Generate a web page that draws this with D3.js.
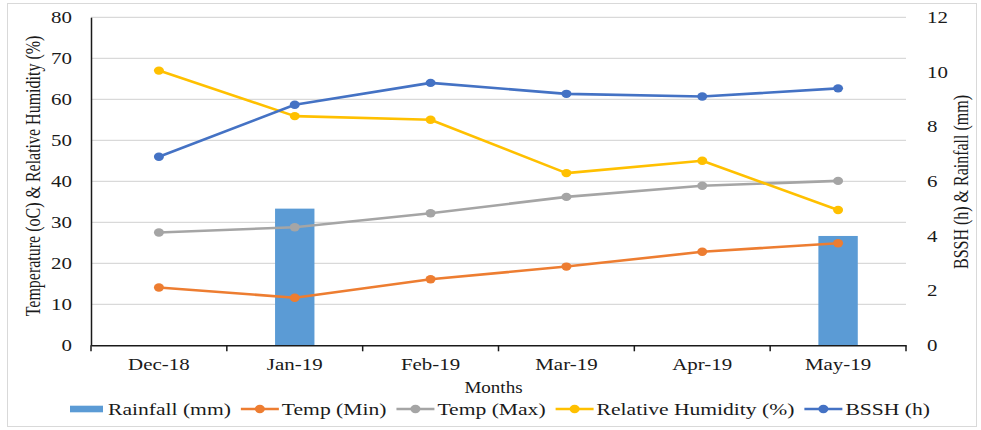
<!DOCTYPE html>
<html>
<head>
<meta charset="utf-8">
<script src="https://cdn.jsdelivr.net/npm/d3@7/dist/d3.min.js"></script>
<style>
  html, body { margin: 0; padding: 0; background: #fff; }
  svg { display: block; font-family: "Liberation Serif", "Times New Roman", serif; }
</style>
</head>
<body>
<svg id="chart" width="981" height="430"></svg>
<script>
// Monthly weather record, Dec 2018 – May 2019
const months = ["Dec-18", "Jan-19", "Feb-19", "Mar-19", "Apr-19", "May-19"];
const rainfall = [0, 5, 0, 0, 0, 4];                     // mm (right axis)
const tempMin = [14.1, 11.6, 16.1, 19.2, 22.8, 24.9];    // °C (left axis)
const tempMax = [27.5, 28.8, 32.2, 36.2, 38.9, 40.1];    // °C (left axis)
const humidity = [67, 55.9, 55, 42, 45, 33];             // % (left axis)
const bssh = [6.9, 8.8, 9.6, 9.2, 9.1, 9.4];             // h (right axis)
const leftTicks = [0, 10, 20, 30, 40, 50, 60, 70, 80];
const rightTicks = [0, 2, 4, 6, 8, 10, 12];

const svg = d3.select("#chart");
const W = 981, H = 430;
const m = { left: 91, right: 906, top: 17.3, bottom: 345.3 };
const INK = "#1a1a1a";
const SX = 1.27;   // horizontal widening of the serif type

// outer chart frame
svg.append("rect")
  .attr("x", 7.5).attr("y", 3.5).attr("width", W - 12).attr("height", H - 7)
  .attr("fill", "#fff").attr("stroke", "#d9d9d9").attr("stroke-width", 1);

const x = d3.scaleBand().domain(months).range([m.left, m.right]).padding(0);
const yL = d3.scaleLinear().domain([0, 80]).range([m.bottom, m.top]);
const yR = d3.scaleLinear().domain([0, 12]).range([m.bottom, m.top]);

// restyle axis labels: widened type, offset applied outside the scale
function styleTicks(sel, dx, dy, size) {
  sel.selectAll(".tick text")
    .attr("x", 0).attr("y", 0)
    .attr("transform", `translate(${dx},${dy}) scale(${SX},1)`)
    .attr("font-size", size).attr("fill", INK)
    .attr("font-family", "Liberation Serif");
}

// horizontal gridlines
svg.append("g")
  .selectAll("line").data(leftTicks.filter(d => d > 0)).join("line")
  .attr("x1", m.left).attr("x2", m.right)
  .attr("y1", d => yL(d)).attr("y2", d => yL(d))
  .attr("stroke", "#d9d9d9").attr("stroke-width", 1.2);

// rainfall bars
const barW = x.bandwidth() * 0.29;
svg.append("g")
  .selectAll("rect").data(months.map((mo, i) => ({ m: mo, v: rainfall[i] })).filter(d => d.v > 0))
  .join("rect")
  .attr("x", d => x(d.m) + x.bandwidth() / 2 - barW / 2)
  .attr("width", barW)
  .attr("y", d => yR(d.v))
  .attr("height", d => yR(0) - yR(d.v))
  .attr("fill", "#5b9bd5");

// left axis
const axL = svg.append("g").attr("transform", `translate(${m.left},0)`)
  .call(d3.axisLeft(yL).tickValues(leftTicks).tickSize(0));
axL.select(".domain").attr("stroke", INK).attr("stroke-width", 1.5);
styleTicks(axL, -19, 0, 16.5);

// right axis (labels only)
const axR = svg.append("g").attr("transform", `translate(${m.right},0)`)
  .call(d3.axisRight(yR).tickValues(rightTicks).tickSize(0));
axR.select(".domain").remove();
styleTicks(axR, 21, 0, 16.5);

// category axis with ticks on band boundaries
const axX = svg.append("g").attr("transform", `translate(0,${m.bottom})`)
  .call(d3.axisBottom(x).tickSize(0));
axX.select(".domain").attr("stroke", INK).attr("stroke-width", 1.5);
styleTicks(axX, 0, 13, 16.5);
const bounds = months.map(d => x(d)).concat([x(months[months.length - 1]) + x.bandwidth()]);
axX.selectAll("line.bound").data(bounds).join("line").attr("class", "bound")
  .attr("x1", d => d).attr("x2", d => d).attr("y1", 0).attr("y2", 6)
  .attr("stroke", INK).attr("stroke-width", 1.5);

// line series
const cx = d => x(d) + x.bandwidth() / 2;
const series = [
  { name: "Temp (Min)", values: tempMin, scale: yL, color: "#ed7d31" },
  { name: "Temp (Max)", values: tempMax, scale: yL, color: "#a5a5a5" },
  { name: "Relative Humidity (%)", values: humidity, scale: yL, color: "#ffc000" },
  { name: "BSSH (h)", values: bssh, scale: yR, color: "#4472c4" }
];
series.forEach(s => {
  const pts = months.map((mo, i) => [cx(mo), s.scale(s.values[i])]);
  svg.append("path").attr("d", d3.line()(pts))
    .attr("fill", "none").attr("stroke", s.color).attr("stroke-width", 2.6)
    .attr("stroke-linejoin", "round");
  svg.append("g").selectAll("ellipse").data(pts).join("ellipse")
    .attr("cx", d => d[0]).attr("cy", d => d[1]).attr("rx", 5).attr("ry", 4.2)
    .attr("fill", s.color);
});

// axis titles
svg.append("text")
  .attr("transform", `translate(39.5,176) scale(${SX},1) rotate(-90)`)
  .attr("text-anchor", "middle").attr("font-size", 16).attr("fill", INK)
  .text("Temperature (oC) & Relative Humidity (%)");
svg.append("text")
  .attr("transform", `translate(968,182) scale(${SX},1) rotate(-90)`)
  .attr("text-anchor", "middle").attr("font-size", 16).attr("fill", INK)
  .text("BSSH (h) & Rainfall (mm)");
svg.append("text")
  .attr("transform", `translate(493.5,393) scale(1.12,1)`)
  .attr("text-anchor", "middle").attr("font-size", 17).attr("fill", INK)
  .text("Months");

// legend
const legend = svg.append("g").attr("transform", "translate(70,409)");
const items = [{ name: "Rainfall (mm)", color: "#5b9bd5", bar: true }].concat(series);
let lx = 0;
items.forEach(it => {
  const g = legend.append("g").attr("transform", `translate(${lx},0)`);
  let tx;
  if (it.bar) {
    g.append("rect").attr("x", 0).attr("y", -3.3).attr("width", 33).attr("height", 6.6).attr("fill", it.color);
    tx = 38;
  } else {
    g.append("line").attr("x1", 0).attr("x2", 38).attr("y1", 0).attr("y2", 0)
      .attr("stroke", it.color).attr("stroke-width", 2.6);
    g.append("ellipse").attr("cx", 19).attr("cy", 0).attr("rx", 5).attr("ry", 4.2).attr("fill", it.color);
    tx = 41;
  }
  const t = g.append("text")
    .attr("transform", `translate(${tx},5.5) scale(${SX},1)`)
    .attr("font-size", 17).attr("fill", INK).text(it.name);
  lx += tx + t.node().getComputedTextLength() * SX + 10;
});
</script>
</body>
</html>
